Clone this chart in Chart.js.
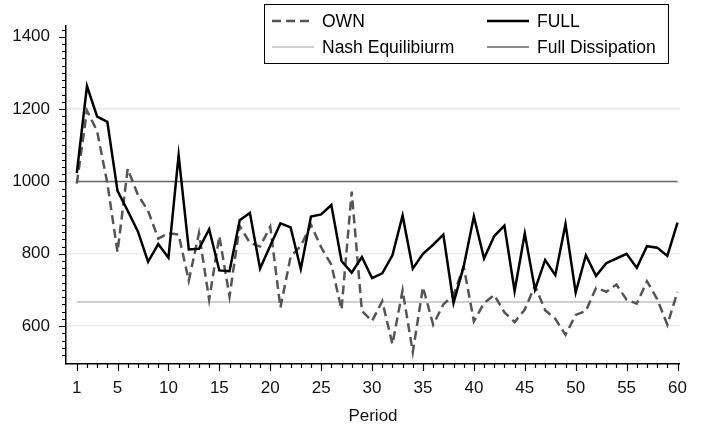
<!DOCTYPE html>
<html>
<head>
<meta charset="utf-8">
<script src="https://cdn.jsdelivr.net/npm/chart.js@4.4.0/dist/chart.umd.min.js"></script>
<style>
  html, body { margin: 0; padding: 0; background: #fff; }
  #wrap { width: 701px; height: 430px; }
</style>
</head>
<body>
<div id="wrap"><canvas id="chart" width="701" height="430"></canvas></div>
<script>
const periods = [1,2,3,4,5,6,7,8,9,10,11,12,13,14,15,16,17,18,19,20,
    21,22,23,24,25,26,27,28,29,30,31,32,33,34,35,36,37,38,39,40,
    41,42,43,44,45,46,47,48,49,50,51,52,53,54,55,56,57,58,59,60];

const own = [994,1196,1139,995,805,1035,963,919,842,857,
    853,726,857,673,849,682,877,830,820,875,
    651,792,822,880,818,770,646,972,642,614,
    669,550,699,528,708,604,660,686,765,613,
    664,686,638,611,646,712,644,620,576,631,
    642,706,695,715,673,662,724,675,604,695];

const full = [1023,1264,1179,1165,974,919,862,778,827,789,
    1073,812,814,868,754,752,893,913,759,822,
    884,873,758,903,909,935,780,748,791,733,
    746,796,906,759,800,825,853,664,765,903,
    787,849,878,697,856,701,783,741,882,693,
    796,739,774,787,800,761,821,817,794,886];

const nashLevel = 666.67;
const fullDissLevel = 1000;

const xTickValues = [1,5,10,15,20,25,30,35,40,45,50,55,60];
const yTickValues = [600,800,1000,1200,1400];
const yGridValues = [600,800,1000,1200];

const FONT = 'Liberation Sans, Arial, Helvetica, sans-serif';

function toPoints(ys) {
    return periods.map((p, i) => ({ x: p, y: ys[i] }));
}
function flatLine(level) {
    return [{ x: periods[0], y: level }, { x: periods[periods.length - 1], y: level }];
}

// minor + major tick marks, drawn through the scales
const tickMarks = {
    id: 'tickMarks',
    afterDraw(chart) {
        const c = chart.ctx;
        const xs = chart.scales.x, ys = chart.scales.y;
        const area = chart.chartArea;
        c.save();
        c.strokeStyle = '#000';
        c.lineWidth = 1.2;
        c.beginPath();
        periods.forEach(p => {
            const len = xTickValues.includes(p) ? 7 : 4;
            const px = Math.round(xs.getPixelForValue(p)) + 0.5;
            c.moveTo(px, area.bottom);
            c.lineTo(px, area.bottom + len);
        });
        for (let v = 520; v <= 1420; v += 20) {
            const len = yTickValues.includes(v) ? 7 : 4;
            const py = Math.round(ys.getPixelForValue(v)) + 0.5;
            c.moveTo(area.left, py);
            c.lineTo(area.left - len, py);
        }
        c.stroke();
        c.restore();
    }
};

// boxed legend in the upper right
const boxLegend = {
    id: 'boxLegend',
    afterDraw(chart) {
        const c = chart.ctx;
        const ds = chart.data.datasets;
        const box = { x: 264.5, y: 4.5, w: 404, h: 59 };
        c.save();
        c.fillStyle = '#fff';
        c.fillRect(box.x, box.y, box.w, box.h);
        c.strokeStyle = '#000';
        c.lineWidth = 1;
        c.strokeRect(box.x, box.y, box.w, box.h);
        const items = [
            { d: ds[0], x: 272, y: 21 },
            { d: ds[1], x: 487, y: 21 },
            { d: ds[2], x: 272, y: 47 },
            { d: ds[3], x: 487, y: 47 }
        ];
        c.font = '17.5px ' + FONT;
        c.textBaseline = 'middle';
        items.forEach(it => {
            c.beginPath();
            c.strokeStyle = it.d.borderColor;
            c.lineWidth = it.d.borderWidth;
            c.setLineDash(it.d.borderDash || []);
            c.moveTo(it.x, it.y);
            c.lineTo(it.x + 42, it.y);
            c.stroke();
            c.setLineDash([]);
            c.fillStyle = '#000';
            c.fillText(it.d.label, it.x + 50, it.y + 1);
        });
        c.restore();
    }
};

const chart = new Chart(document.getElementById('chart'), {
    type: 'line',
    data: {
        datasets: [
            { label: 'OWN', data: toPoints(own), borderColor: '#555', borderWidth: 2.5, borderDash: [9, 5], order: 2 },
            { label: 'FULL', data: toPoints(full), borderColor: '#000', borderWidth: 2.5, order: 1 },
            { label: 'Nash Equilibiurm', data: flatLine(nashLevel), borderColor: '#d0d0d0', borderWidth: 2, order: 4 },
            { label: 'Full Dissipation', data: flatLine(fullDissLevel), borderColor: '#666', borderWidth: 1.5, order: 3 }
        ]
    },
    options: {
        responsive: false,
        animation: false,
        elements: { point: { radius: 0 }, line: { tension: 0 } },
        layout: { padding: { top: 10, right: 9, bottom: 0, left: 0 } },
        plugins: { legend: { display: false }, tooltip: { enabled: false } },
        scales: {
            x: {
                type: 'linear',
                min: -0.06,
                max: 60.24,
                afterBuildTicks: s => { s.ticks = xTickValues.map(v => ({ value: v })); },
                afterFit: s => { s.height = 66; },
                grid: { display: false, drawTicks: false },
                border: { display: true, color: '#000', width: 1.5 },
                ticks: { padding: 14, color: '#111', font: { family: FONT, size: 17 }, maxRotation: 0, autoSkip: false,
                    callback: v => String(v) },
                title: { display: true, text: 'Period', color: '#111', font: { family: FONT, size: 17 }, padding: { top: 0, bottom: 3 } }
            },
            y: {
                min: 495.3,
                max: 1429.3,
                afterBuildTicks: s => { s.ticks = yTickValues.map(v => ({ value: v })); },
                afterFit: s => { s.width = 66; },
                grid: {
                    drawTicks: false,
                    color: c => yGridValues.includes(c.tick && c.tick.value) ? '#ececec' : 'rgba(0,0,0,0)',
                    lineWidth: 1.5
                },
                border: { display: true, color: '#000', width: 1.5 },
                ticks: { padding: 16, color: '#111', font: { family: FONT, size: 17 }, callback: v => String(v) }
            }
        }
    },
    plugins: [tickMarks, boxLegend]
});
</script>
</body>
</html>
